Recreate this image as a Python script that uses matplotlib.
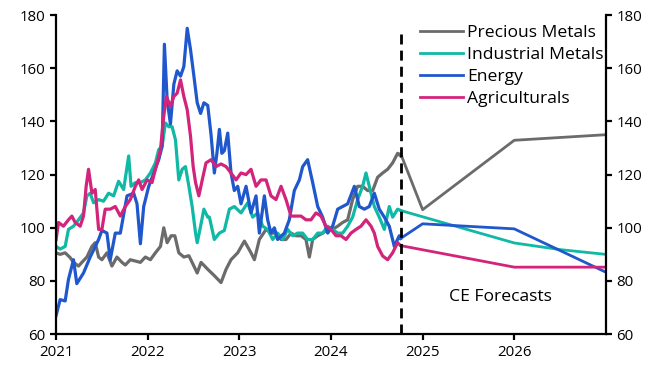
import matplotlib
matplotlib.use('Agg')
import matplotlib.pyplot as plt

# historical readings (decimal year, index)
prec_t = [2021.000, 2021.044, 2021.099, 2021.153, 2021.190, 2021.245, 2021.281, 2021.336, 2021.391, 2021.427,
          2021.464, 2021.500, 2021.555, 2021.609, 2021.664, 2021.719, 2021.755, 2021.810, 2021.865, 2021.920,
          2021.974, 2022.029, 2022.084, 2022.139, 2022.175, 2022.212, 2022.255, 2022.296, 2022.339, 2022.394,
          2022.449, 2022.504, 2022.540, 2022.582, 2022.655, 2022.727, 2022.800, 2022.855, 2022.909, 2022.982,
          2023.055, 2023.127, 2023.164, 2023.218, 2023.291, 2023.345, 2023.400, 2023.455, 2023.509, 2023.564,
          2023.618, 2023.673, 2023.727, 2023.764, 2023.800, 2023.855, 2023.909, 2023.964, 2024.018, 2024.073,
          2024.127, 2024.182, 2024.236, 2024.291, 2024.345, 2024.400, 2024.455, 2024.509, 2024.564, 2024.618,
          2024.673, 2024.727, 2024.760]
prec_v = [90.6, 90, 90.6, 88.8, 87, 85.6, 87, 89, 93, 94.4,
          89, 88, 90.6, 85.6, 89, 87, 86, 88, 87.5, 87,
          89, 88, 90.6, 93, 100, 94.4, 97, 97, 90.6, 89,
          89.5, 85.6, 83, 87, 84.4, 82, 79.4, 84.4, 88, 90.6,
          95, 90.6, 88, 95.6, 99.4, 98, 98, 95.6, 95.6, 98,
          97, 97, 95.6, 89, 95.6, 97, 98, 99.4, 99.4, 100.6,
          102, 103, 110.6, 115.6, 115.6, 114, 114, 119, 120.6, 122,
          124.4, 128, 127]

ind_t = [2021.000, 2021.044, 2021.099, 2021.135, 2021.190, 2021.245, 2021.299, 2021.336, 2021.372, 2021.409,
         2021.464, 2021.518, 2021.573, 2021.628, 2021.682, 2021.737, 2021.792, 2021.818, 2021.865, 2021.920,
         2021.974, 2022.029, 2022.084, 2022.120, 2022.157, 2022.193, 2022.230, 2022.266, 2022.303, 2022.339,
         2022.376, 2022.412, 2022.449, 2022.485, 2022.522, 2022.540, 2022.577, 2022.613, 2022.655, 2022.673,
         2022.727, 2022.782, 2022.836, 2022.891, 2022.945, 2023.018, 2023.091, 2023.145, 2023.200, 2023.255,
         2023.309, 2023.364, 2023.418, 2023.473, 2023.527, 2023.582, 2023.636, 2023.691, 2023.745, 2023.800,
         2023.855, 2023.909, 2023.964, 2024.018, 2024.073, 2024.127, 2024.182, 2024.236, 2024.291, 2024.345,
         2024.382, 2024.418, 2024.473, 2024.527, 2024.582, 2024.636, 2024.673, 2024.727, 2024.760]
ind_v = [93, 92, 93, 99.4, 100.6, 103, 105.6, 112, 113, 109.4,
         110.6, 110, 113, 112, 117.5, 114.4, 127, 115.6, 117, 117,
         118, 120.6, 124.4, 129.4, 130.6, 139.4, 138, 138, 133, 118,
         122, 123, 115.6, 108, 98, 94.4, 100.6, 107, 104, 104,
         95.6, 98, 99, 107, 108, 105.6, 109.4, 104, 105.6, 100.6,
         99.4, 95.6, 98, 95.6, 99.4, 97, 98, 98, 95.6, 95.6,
         98, 98, 100.6, 99.4, 98, 98, 100.6, 104, 110.6, 115.6,
         120.6, 115.6, 108, 104, 99.4, 108, 104, 107, 106.5]

ene_t = [2021.000, 2021.044, 2021.099, 2021.135, 2021.190, 2021.226, 2021.299, 2021.372, 2021.464, 2021.500,
         2021.555, 2021.591, 2021.646, 2021.701, 2021.774, 2021.847, 2021.883, 2021.920, 2021.956, 2022.011,
         2022.066, 2022.120, 2022.157, 2022.182, 2022.212, 2022.248, 2022.285, 2022.321, 2022.358, 2022.394,
         2022.431, 2022.467, 2022.504, 2022.540, 2022.577, 2022.613, 2022.655, 2022.691, 2022.727, 2022.755,
         2022.782, 2022.809, 2022.836, 2022.873, 2022.909, 2022.945, 2022.982, 2023.018, 2023.073, 2023.127,
         2023.182, 2023.218, 2023.273, 2023.309, 2023.345, 2023.382, 2023.418, 2023.491, 2023.545, 2023.600,
         2023.655, 2023.691, 2023.745, 2023.800, 2023.855, 2023.909, 2023.964, 2024.018, 2024.073, 2024.127,
         2024.182, 2024.255, 2024.309, 2024.364, 2024.418, 2024.473, 2024.527, 2024.582, 2024.636, 2024.691,
         2024.745, 2024.760]
ene_v = [67, 73, 72.5, 80.6, 88, 79, 83, 89, 95.6, 99,
         98, 88, 98, 98, 112, 113, 109, 94, 108, 115.6,
         120.6, 125.6, 130.6, 169, 148, 139, 154, 159, 157, 160.6,
         175, 167, 157, 147, 143, 147, 146, 135, 120.6, 128,
         137, 128, 129, 135.6, 120.6, 114, 115.6, 109, 115.6, 105.6,
         112, 98, 112, 103, 98, 100, 95.6, 98, 103, 114,
         118, 123, 125.6, 117, 108, 104, 98, 100.6, 107, 108,
         109, 115.6, 108, 107, 108, 113, 107, 104, 100.6, 93,
         97, 96]

agr_t = [2021.000, 2021.026, 2021.080, 2021.135, 2021.172, 2021.208, 2021.263, 2021.299, 2021.328, 2021.354,
         2021.391, 2021.427, 2021.464, 2021.500, 2021.536, 2021.591, 2021.646, 2021.701, 2021.755, 2021.810,
         2021.865, 2021.901, 2021.938, 2021.993, 2022.047, 2022.084, 2022.139, 2022.175, 2022.204, 2022.248,
         2022.285, 2022.321, 2022.358, 2022.394, 2022.431, 2022.467, 2022.496, 2022.522, 2022.558, 2022.595,
         2022.636, 2022.691, 2022.745, 2022.800, 2022.855, 2022.909, 2022.964, 2023.018, 2023.073, 2023.127,
         2023.182, 2023.236, 2023.291, 2023.345, 2023.400, 2023.455, 2023.509, 2023.564, 2023.618, 2023.673,
         2023.727, 2023.782, 2023.836, 2023.891, 2023.945, 2024.000, 2024.055, 2024.109, 2024.164, 2024.218,
         2024.273, 2024.327, 2024.382, 2024.437, 2024.473, 2024.509, 2024.564, 2024.618, 2024.673, 2024.727,
         2024.760]
agr_v = [95.6, 102, 100.6, 103, 104.4, 102, 100.6, 104.4, 115.6, 122,
         113, 114.4, 99.4, 99.4, 107, 107, 108, 104.4, 108, 110.6,
         115.6, 118, 114.4, 118, 117, 122, 129.4, 142, 149.4, 145.6,
         149.4, 150.6, 155.6, 149.4, 144.4, 134.4, 123, 117, 112, 118,
         124.4, 125.6, 123, 124, 123, 120.6, 118, 120.6, 120, 122,
         115.6, 118, 118, 112, 110.6, 115.6, 110.6, 104.4, 104.4, 104.4,
         103, 103, 105.6, 104.4, 100.6, 99.4, 97, 97, 95.6, 98,
         99.4, 100.6, 103, 100.6, 98, 93, 89.4, 88, 90.6, 94.4,
         93.3]

# CE forecasts
prec_ft = [2024.76, 2025.0, 2026.0, 2027.0]
prec_fv = [127.9, 106.8, 132.9, 135]
ind_ft = [2024.76, 2026.0, 2026.5, 2027.0]
ind_fv = [106.5, 94.3, 91.8, 90]
ene_ft = [2024.76, 2025.0, 2026.0, 2027.0]
ene_fv = [96, 101.5, 99.6, 83.3]
agr_ft = [2024.76, 2026.0, 2027.0]
agr_fv = [93.3, 85.2, 85.2]

forecast_start = 2024.76
years = [2021, 2022, 2023, 2024, 2025, 2026]

plt.rcParams['font.family'] = ['Open Sans', 'DejaVu Sans']
plt.rcParams['font.size'] = 10.8

c_prec = '#6b6b6b'
c_ind = '#10b8a6'
c_ene = '#1f57cc'
c_agr = '#d3247c'

fig = plt.figure(figsize=(6.6, 3.85), dpi=100)
ax = fig.add_axes([0.085, 0.132, 0.833, 0.829])

hw = 2.3
fw = 2.0
ax.plot(prec_t, prec_v, color=c_prec, lw=hw)
ax.plot(ind_t, ind_v, color=c_ind, lw=hw)
ax.plot(ene_t, ene_v, color=c_ene, lw=hw)
ax.plot(agr_t, agr_v, color=c_agr, lw=hw)

ax.plot(prec_ft, prec_fv, color=c_prec, lw=fw, label='Precious Metals')
ax.plot(ind_ft, ind_fv, color=c_ind, lw=fw, label='Industrial Metals')
ax.plot(ene_ft, ene_fv, color=c_ene, lw=fw, label='Energy')
ax.plot(agr_ft, agr_fv, color=c_agr, lw=fw, label='Agriculturals')

ax.plot([forecast_start, forecast_start], [60, 174.5], color='black', lw=2.0,
        linestyle=(0, (3.6, 2.2)))

ax.text(2025.85, 74, 'CE Forecasts', ha='center', va='center', fontsize=12.6)

ax.set_xlim(2021, 2027)
ax.set_ylim(60, 180)
ax.set_xticks(years)
ax.set_xticklabels([str(y) for y in years])
ax.set_yticks(range(60, 181, 20))

ax.spines['top'].set_visible(False)
for s in ['left', 'right', 'bottom']:
    ax.spines[s].set_linewidth(1.6)
ax.tick_params(axis='both', direction='out', length=4.5, width=1.6, pad=3)
ax.tick_params(axis='y', labelright=True, right=True)

leg = ax.legend(loc='upper left', bbox_to_anchor=(0.64, 1.008), frameon=False, fontsize=12.6,
                handlelength=2.45, handletextpad=0.22, labelspacing=0.33, borderpad=0.2)

fig.savefig('out.png', dpi=100)
